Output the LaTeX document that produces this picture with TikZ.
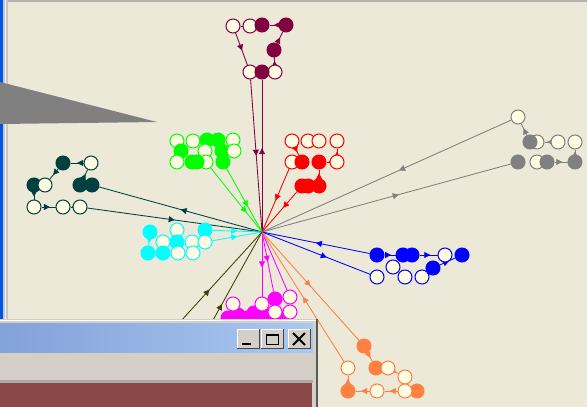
\documentclass[tikz,border=0pt]{standalone}
\usetikzlibrary{arrows.meta,decorations.markings,backgrounds}
\definecolor{bgc}{RGB}{236,233,216}
\definecolor{cream}{RGB}{255,252,225}
\definecolor{mar}{RGB}{128,0,64}
\definecolor{grn}{RGB}{0,255,0}
\definecolor{rd}{RGB}{255,0,0}
\definecolor{tl}{RGB}{0,64,64}
\definecolor{gry}{RGB}{128,128,128}
\definecolor{cyn}{RGB}{0,255,255}
\definecolor{blu}{RGB}{0,0,255}
\definecolor{mag}{RGB}{255,0,255}
\definecolor{org}{RGB}{255,128,64}
\definecolor{olv}{RGB}{64,64,0}
\definecolor{xpblue}{RGB}{0,84,227}
\definecolor{btn}{RGB}{212,208,200}
\definecolor{brn}{RGB}{138,72,72}
\definecolor{tbl}{RGB}{130,162,218}
\definecolor{tbr}{RGB}{170,200,240}
\begin{document}
\begin{tikzpicture}[x=1pt,y=-1pt,
  nd/.style={circle,minimum size=14pt,inner sep=0pt,line width=1pt},
  fn/.style={nd,draw=#1,fill=#1},
  hn/.style={nd,draw=#1,fill=cream},
  ed/.style={color=#1,line width=0.85pt},
  ar/.style={postaction={decorate},decoration={markings,mark=at position #1 with {\arrow{Triangle[length=6pt,width=6pt]}}}}]
\useasboundingbox (0,0) rectangle (587,407);
\begin{scope}[on background layer]
  \fill[bgc] (0,0) rectangle (587,407);
  \fill[gray!60] (0,0) rectangle (587,2);
  \fill[xpblue] (0,0) rectangle (3,407);
  \fill[gray!45] (3,0) rectangle (8,407);
  \fill[white!90!gray] (5,0) rectangle (6,407);
  \fill[gry] (0,82) -- (157,122) -- (0,124) -- cycle;
\end{scope}
\coordinate (hub) at (262,232);
% maroon
\node[hn=mar] (m1) at (233,26) {};
\node[hn=mar] (m2) at (250,26) {};
\node[fn=mar] (m3) at (262,25) {};
\node[fn=mar] (m4) at (286,25) {};
\node[fn=mar] (m5) at (274,50) {};
\node[hn=mar] (m6) at (250,72) {};
\node[hn=mar] (m8) at (275,72) {};
\node[fn=mar] (m7) at (262,72) {};
% green
\node[hn=grn] (g1) at (177,141) {};
\node[hn=grn] (g2) at (193,141) {};
\node[hn=grn] (g5) at (233,140) {};
\node[fn=grn] (g3) at (207,140) {};
\node[fn=grn] (g4) at (218,140) {};
\node[fn=grn] (g6) at (181,151) {};
\node[fn=grn] (g8) at (222,151) {};
\node[hn=grn] (g7) at (205,151) {};
\node[hn=grn] (g9) at (234,151) {};
\node[hn=grn] (g10) at (177,162) {};
\node[hn=grn] (g13) at (206,162) {};
\node[fn=grn] (g11) at (192,162) {};
\node[fn=grn] (g12) at (197,162) {};
\node[fn=grn] (g14) at (223,162) {};
% red
\node[hn=rd] (r1) at (292,141) {};
\node[hn=rd] (r2) at (308,141) {};
\node[hn=rd] (r3) at (319,141) {};
\node[hn=rd] (r4) at (337,141) {};
\node[hn=rd] (r5) at (292,162) {};
\node[fn=rd] (r6) at (302,162) {};
\node[fn=rd] (r7) at (319,162) {};
\node[hn=rd] (r8) at (337,162) {};
\node[fn=rd] (r9) at (302,186) {};
\node[fn=rd] (r10) at (308,186) {};
\node[fn=rd] (r11) at (319,186) {};
% teal
\node[fn=tl] (t1) at (63,163) {};
\node[hn=tl] (t2) at (91,163) {};
\node[fn=tl] (t3) at (34,185) {};
\node[hn=tl] (t4) at (45,185) {};
\node[fn=tl] (t5) at (80,185) {};
\node[fn=tl] (t6) at (92,185) {};
\node[hn=tl] (t7) at (34,207) {};
\node[hn=tl] (t8) at (63,207) {};
\node[hn=tl] (t9) at (80,207) {};
% gray
\node[hn=gry] (y1) at (518,117) {};
\node[hn=gry] (y3) at (537,142) {};
\node[fn=gry] (y2) at (530,142) {};
\node[hn=gry] (y4) at (558,142) {};
\node[hn=gry] (y5) at (575,142) {};
\node[fn=gry] (y6) at (518,162) {};
\node[hn=gry] (y7) at (537,162) {};
\node[fn=gry] (y8) at (547,162) {};
\node[fn=gry] (y9) at (575,162) {};
% cyan
\node[fn=cyn] (c1) at (150,232) {};
\node[hn=cyn] (c2) at (177,230) {};
\node[fn=cyn] (c3) at (205,230) {};
\node[hn=cyn] (c4) at (163,242) {};
\node[fn=cyn] (c5) at (177,242) {};
\node[hn=cyn] (c6) at (192,242) {};
\node[hn=cyn] (c7) at (205,242) {};
\node[fn=cyn] (c8) at (148,253) {};
\node[fn=cyn] (c9) at (163,253) {};
\node[hn=cyn] (c10) at (178,253) {};
\node[hn=cyn] (c11) at (193,253) {};
% blue
\node[fn=blu] (b1) at (377,255) {};
\node[fn=blu] (b2) at (403,255) {};
\node[fn=blu] (b3) at (412,255) {};
\node[hn=blu] (b4) at (445,255) {};
\node[fn=blu] (b5) at (462,255) {};
\node[hn=blu] (b6) at (377,277) {};
\node[hn=blu] (b7) at (393,267) {};
\node[hn=blu] (b8) at (405,277) {};
\node[hn=blu] (b9) at (422,277) {};
\node[fn=blu] (b10) at (433,268) {};
% magenta
\node[fn=mag] (p11) at (228,318) {};
\node[fn=mag] (p7) at (238,315) {};
\node[fn=mag] (p10) at (247,318) {};
\node[fn=mag] (p8) at (254,313) {};
\node[fn=mag] (p9) at (262,318) {};
\node[fn=mag] (p12) at (270,316) {};
\node[fn=mag] (p13) at (283,318) {};
\node[hn=mag] (p1) at (233,304) {};
\node[hn=mag] (p2) at (262,304) {};
\node[fn=mag] (p3) at (275,299) {};
\node[hn=mag] (p4) at (290,297) {};
\node[hn=mag] (p5) at (275,312) {};
\node[hn=mag] (p6) at (290,312) {};
% orange
\node[fn=org] (o1) at (364,346) {};
\node[fn=org] (o2) at (376,368) {};
\node[hn=org] (o3) at (388,368) {};
\node[hn=org] (o4) at (405,377) {};
\node[hn=org] (o5) at (348,368) {};
\node[fn=org] (o6) at (348,391) {};
\node[hn=org] (o7) at (377,391) {};
\node[fn=org] (o9) at (417,391) {};
\node[hn=org] (o8) at (405,391) {};
% olive free ends
\coordinate (ol1) at (180,322);
\coordinate (ol2) at (212,322);
\begin{scope}[on background layer]
  % maroon
  \draw[ed=mar] (m1) -- (m2);
  \draw[ed=mar,ar=0.5] (m4) -- (m3);
  \draw[ed=mar,ar=0.55] (m1) -- (m6);
  \draw[ed=mar,ar=0.5] (m5) -- (m4);
  \draw[ed=mar,ar=0.5] (m8) -- (m5);
  \draw[ed=mar,ar=0.5] (m6) -- (hub);
  \draw[ed=mar,ar=0.55] (hub) -- (m7);
  % green
  \draw[ed=grn,ar=0.7] (g13) -- (hub);
  \draw[ed=grn,ar=0.6] (g14) -- (hub);
  % red
  \draw[ed=rd,ar=0.6] (r1) -- (r6);
  \draw[ed=rd,ar=0.5] (r8) -- (r4);
  \draw[ed=rd,ar=0.5] (r8) -- (r7);
  \draw[ed=rd,ar=0.6] (r11) -- (r7);
  \draw[ed=rd,ar=0.5] (r5) -- (hub);
  \draw[ed=rd,ar=0.4] (r9) -- (hub);
  % teal
  \draw[ed=tl,ar=0.5] (t2) -- (t1);
  \draw[ed=tl,ar=0.6] (t1) -- (t4);
  \draw[ed=tl,ar=0.5] (t5) -- (t2);
  \draw[ed=tl,ar=0.6] (t3) -- (t7);
  \draw[ed=tl,ar=0.6] (t7) -- (t8);
  \draw[ed=tl,ar=0.6] (t9) -- (t8);
  \draw[ed=tl,ar=0.5] (hub) -- (t6);
  \draw[ed=tl,ar=0.5] (t9) -- (hub);
  % gray
  \draw[ed=gry,ar=0.6] (y2) -- (y1);
  \draw[ed=gry,ar=0.6] (y4) -- (y3);
  \draw[ed=gry,ar=0.6] (y9) -- (y5);
  \draw[ed=gry,ar=0.6] (y8) -- (y9);
  \draw[ed=gry,ar=0.45] (y1) -- (hub);
  \draw[ed=gry,ar=0.55] (hub) -- (y6);
  % cyan
  \draw[ed=cyn,ar=0.6] (c1) -- (c8);
  \draw[ed=cyn,ar=0.5] (c3) -- (hub);
  \draw[ed=cyn,ar=0.5] (c7) -- (hub);
  % blue
  \draw[ed=blu,ar=0.6] (b1) -- (b2);
  \draw[ed=blu,ar=0.6] (b3) -- (b4);
  \draw[ed=blu,ar=0.6] (b10) -- (b5);
  \draw[ed=blu,ar=0.5] (b1) -- (hub);
  \draw[ed=blu,ar=0.6] (hub) -- (b6);
  % magenta
  \draw[ed=mag,ar=0.55] (hub) -- (p2);
  \draw[ed=mag,ar=0.5] (hub) -- (p3);
  \draw[ed=mag] (hub) -- (p4);
  % orange
  \draw[ed=org,ar=0.6] (o1) -- (o2);
  \draw[ed=org,ar=0.6] (o3) -- (o4);
  \draw[ed=org] (o4) -- (o8);
  \draw[ed=org,ar=0.6] (o8) -- (o7);
  \draw[ed=org,ar=0.6] (o7) -- (o6);
  \draw[ed=org,ar=0.6] (o6) -- (o5);
  \draw[ed=org,ar=0.5] (hub) -- (o1);
  \draw[ed=org,ar=0.5] (o5) -- (hub);
  % olive
  \draw[ed=olv,ar=0.36] (ol1) -- (hub);
  \draw[ed=olv,ar=0.2] (ol2) -- (hub);
\end{scope}
% window
\fill[btn] (0,319) rectangle (318,407);
\fill[white] (0,320) rectangle (316,321);
\fill[gray!70!black] (316,319) rectangle (318,407);
\shade[left color=tbl,right color=tbr] (0,323) rectangle (313,352);
\fill[gray!65] (0,380) rectangle (313,383);
\fill[brn] (0,383) rectangle (312,407);
\foreach \bx in {237,261,288} {
  \fill[gray!55!black] (\bx,329) rectangle (\bx+23,349);
  \fill[white] (\bx,329) rectangle (\bx+22,348);
  \fill[btn] (\bx+1,330) rectangle (\bx+22,348);
}
\draw[line width=2pt] (242,344) -- (251,344);
\draw[line width=1pt] (266.5,334) rectangle (278.5,344.5);
\draw[line width=2pt] (266.5,334.5) -- (278.5,334.5);
\draw[line width=2pt] (293,333) -- (305,345);
\draw[line width=2pt] (305,333) -- (293,345);
\end{tikzpicture}
\end{document}
